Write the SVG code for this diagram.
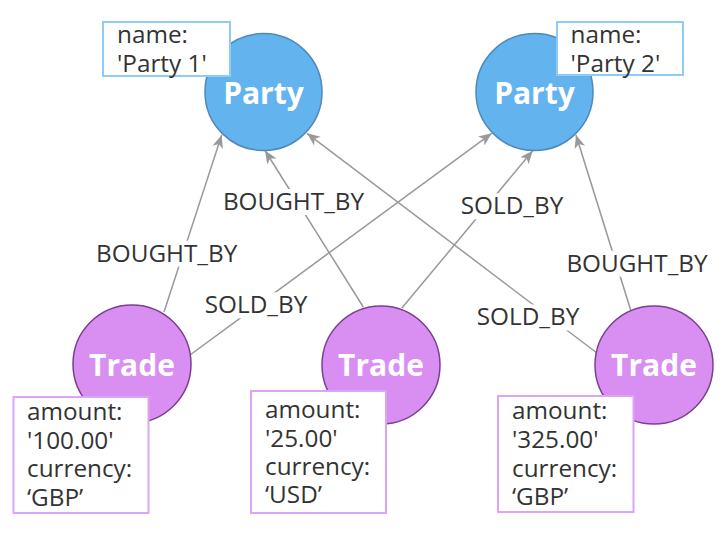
<svg xmlns="http://www.w3.org/2000/svg" width="724" height="538" viewBox="0 0 724 538">
<defs>
<marker id="arr" markerUnits="userSpaceOnUse" markerWidth="14" markerHeight="12" viewBox="0 0 14 12" refX="13" refY="6" orient="auto">
<path d="M0,0.5 L13,6 L0,11.5 L3.5,6 z" fill="#999"/>
</marker>
<style>
.edge{stroke:#999;stroke-width:1.5;fill:none}
.lbl{font-family:"Open Sans","DejaVu Sans",sans-serif;font-size:24.3px;fill:#333;text-anchor:middle}
.lblbg{fill:#fff}
.party{fill:#63b3ef;stroke:#4c89bd;stroke-width:1.5}
.trade{fill:#d98ff2;stroke:#7b3f90;stroke-width:1.5}
.title{font-family:"Open Sans","DejaVu Sans",sans-serif;font-size:30px;font-weight:bold;fill:#fff;text-anchor:middle}
.pbox{fill:#fff;stroke:#8ecbf5;stroke-width:2}
.tbox{fill:#fff;stroke:#dda3f5;stroke-width:2}
.prop{font-family:"Open Sans","DejaVu Sans",sans-serif;font-size:24.3px;fill:#333}
</style>
</defs>
<g id="connectors">
<line class="edge" x1="164" y1="312" x2="221.7" y2="135" marker-end="url(#arr)"/>
<line class="edge" x1="363.3" y1="307" x2="265" y2="150.5" marker-end="url(#arr)"/>
<line class="edge" x1="597" y1="353" x2="307" y2="133.3" marker-end="url(#arr)"/>
<line class="edge" x1="190" y1="355" x2="491.7" y2="133.3" marker-end="url(#arr)"/>
<line class="edge" x1="401.7" y1="308.3" x2="532.7" y2="150.7" marker-end="url(#arr)"/>
<line class="edge" x1="630.7" y1="310" x2="576" y2="135" marker-end="url(#arr)"/>
<rect class="lblbg" x="96" y="240.7" width="141" height="26"/>
<text class="lbl" x="166.7" y="261.7">BOUGHT_BY</text>
<rect class="lblbg" x="223" y="189" width="141" height="26"/>
<text class="lbl" x="293.5" y="210">BOUGHT_BY</text>
<rect class="lblbg" x="477" y="304.5" width="102" height="26"/>
<text class="lbl" x="528" y="325">SOLD_BY</text>
<rect class="lblbg" x="204" y="292.3" width="103" height="26"/>
<text class="lbl" x="256" y="313.3">SOLD_BY</text>
<rect class="lblbg" x="461" y="193.3" width="102" height="26"/>
<text class="lbl" x="512" y="214.3">SOLD_BY</text>
<rect class="lblbg" x="566.5" y="250.7" width="141" height="26"/>
<text class="lbl" x="637" y="271.7">BOUGHT_BY</text>
</g>
<g id="party1">
<circle class="party" cx="263.5" cy="92" r="58.5"/>
<text class="title" x="263.5" y="104">Party</text>
<rect class="pbox" x="103" y="22" width="127" height="54"/>
<text class="prop" x="117" y="43.3">name:</text>
<text class="prop" x="117" y="71.7">'Party 1'</text>
</g>
<g id="party2">
<circle class="party" cx="534.5" cy="92" r="58.5"/>
<text class="title" x="534.5" y="103.5">Party</text>
<rect class="pbox" x="557" y="22" width="126" height="53"/>
<text class="prop" x="570.5" y="43.3">name:</text>
<text class="prop" x="570.5" y="71.7">'Party 2'</text>
</g>
<g id="trade1">
<circle class="trade" cx="132" cy="364" r="59"/>
<text class="title" x="132" y="376">Trade</text>
<rect class="tbox" x="13.5" y="397" width="135" height="116"/>
<text class="prop" x="27" y="420">amount:</text>
<text class="prop" x="27" y="448.5">'100.00'</text>
<text class="prop" x="27" y="477">currency:</text>
<text class="prop" x="27" y="505.5">‘GBP’</text>
</g>
<g id="trade2">
<circle class="trade" cx="381" cy="365" r="59"/>
<text class="title" x="381" y="376">Trade</text>
<rect class="tbox" x="251" y="391" width="135" height="122"/>
<text class="prop" x="265" y="418.3">amount:</text>
<text class="prop" x="265" y="446.7">'25.00'</text>
<text class="prop" x="265" y="475">currency:</text>
<text class="prop" x="265" y="503.3">‘USD’</text>
</g>
<g id="trade3">
<circle class="trade" cx="654" cy="365" r="59"/>
<text class="title" x="654" y="376">Trade</text>
<rect class="tbox" x="498" y="396" width="135.5" height="116"/>
<text class="prop" x="512" y="419.3">amount:</text>
<text class="prop" x="512" y="448">'325.00'</text>
<text class="prop" x="512" y="476.5">currency:</text>
<text class="prop" x="512" y="504.5">‘GBP’</text>
</g>
</svg>
